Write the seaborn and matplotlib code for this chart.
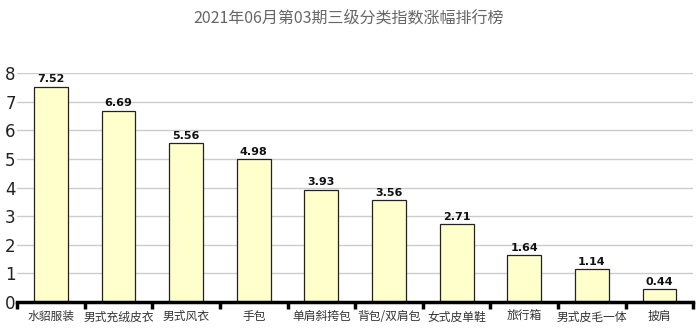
import matplotlib
matplotlib.use("Agg")
import matplotlib.pyplot as plt
import seaborn as sns
import pandas as pd
import numpy as np

categories = ["水貂服装", "男式充绒皮衣", "男式风衣", "手包", "单肩斜挎包", "背包/双肩包", "女式皮单鞋", "旅行箱", "男式皮毛一体", "披肩"]
values = [7.52, 6.69, 5.56, 4.98, 3.93, 3.56, 2.71, 1.64, 1.14, 0.44]
yticks = [0, 1, 2, 3, 4, 5, 6, 7, 8]
title = "2021年06月第03期三级分类指数涨幅排行榜"

sns.set_theme(style="white")
plt.rcParams['font.family'] = ['Noto Sans CJK SC', 'DejaVu Sans']

df = pd.DataFrame({"cat": categories, "val": values})

fig = plt.figure(figsize=(6.98, 3.29), dpi=100)
ax = fig.add_axes([0.0244, 0.082, 0.969, 0.696])

sns.barplot(data=df, x="cat", y="val", ax=ax, color="#FFFFCC", width=0.5,
            edgecolor="#222222", linewidth=0.9, saturation=1, zorder=3)

ax.set_ylim(0, 8)
ax.set_xlim(-0.5, len(categories) - 0.5)
ax.set_yticks(yticks)
ax.set_yticklabels([str(t) for t in yticks], fontsize=12, color="#222222", family="DejaVu Sans")
ax.yaxis.grid(True, color="#cccccc", linewidth=1, zorder=0)
ax.set_axisbelow(True)
for s in ["top", "right", "left"]:
    ax.spines[s].set_visible(False)
ax.spines["bottom"].set_color("black")
ax.spines["bottom"].set_linewidth(2.5)
ax.spines["bottom"].set_zorder(5)

ax.set_xticks(np.arange(len(categories)))
ax.set_xticklabels(categories, fontsize=8.5, color="#333333")
ax.tick_params(axis="x", length=0, pad=6)
ax.tick_params(axis="y", length=0, pad=1)
ax.set_xticks(np.arange(len(categories) + 1) - 0.5, minor=True)
ax.tick_params(axis="x", which="minor", length=5, width=2.5, color="black", direction="out", bottom=True)
ax.set_xlabel("")
ax.set_ylabel("")

for i, v in enumerate(values):
    ax.text(i, v + 0.08, f"{v:.2f}", ha="center", va="bottom", fontsize=8,
            fontweight="bold", color="#111111", family="DejaVu Sans")

fig.text(0.5, 0.945, title, ha="center", va="center", fontsize=11.5, color="#666666")

fig.savefig("out.png", dpi=100)
